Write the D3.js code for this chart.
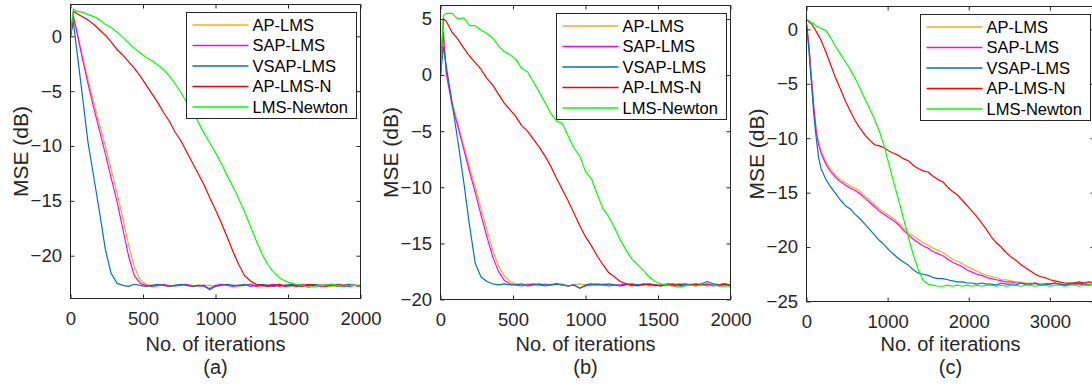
<!DOCTYPE html>
<html lang="en">
<head>
  <meta charset="utf-8">
  <title>MSE learning curves</title>
  <script src="https://d3js.org/d3.v7.min.js"></script>
  <style>
    body { margin: 0; background: #fff; }
    svg { display: block; font-family: "Liberation Sans", Arial, sans-serif; }
  </style>
</head>
<body>
<svg id="chart" width="1092" height="386"></svg>
<script>
  // legend order = plot order
  const seriesNames = ["AP-LMS", "SAP-LMS", "VSAP-LMS", "AP-LMS-N", "LMS-Newton"];
  const seriesColors = ["#EDB120", "#FF00FF", "#0072BD", "#FF0000", "#00FF00"];
  const captions = ["(a)", "(b)", "(c)"];

  // iteration grids
  const itersAB = [0, 20, 40, 80, 120, 160, 200, 240, 280, 320, 360, 400, 440, 480, 520, 560, 600, 640, 680, 720,
    760, 800, 840, 880, 920, 960, 1000, 1040, 1080, 1120, 1160, 1200, 1240, 1280, 1320, 1360, 1400, 1440, 1480, 1520,
    1560, 1600, 1640, 1680, 1720, 1760, 1800, 1840, 1880, 1920, 1960, 2000];
  const itersC = [0, 30, 60, 90, 120, 150, 180, 240, 300, 360, 420, 480, 540, 600, 660, 720, 780, 840, 900, 960,
    1020, 1080, 1140, 1200, 1260, 1320, 1380, 1440, 1500, 1560, 1620, 1680, 1740, 1800, 1860, 1920, 1980, 2040, 2100, 2160,
    2220, 2280, 2340, 2400, 2460, 2520, 2580, 2640, 2700, 2760, 2820, 2880, 2940, 3000, 3060, 3120, 3180, 3240, 3300, 3360,
    3420, 3480, 3540, 3600];

  // ticks
  const xTicksAB = [0, 500, 1000, 1500, 2000];
  const xTicksC = [0, 1000, 2000, 3000];
  const yTicksA = [-20, -15, -10, -5, 0];
  const yTicksB = [-20, -15, -10, -5, 0, 5];
  const yTicksC = [-25, -20, -15, -10, -5, 0];

  // panel (a), MSE in dB
  const apA = [0, 1.8, 0.7, -1.7, -3.9, -6.0, -8.0, -10.0, -12.1, -14.2, -16.5, -19.0, -21.0, -22.2, -22.6, -22.7,
    -22.8, -22.6, -22.7, -22.8, -22.7, -22.6, -22.7, -22.8, -22.7, -22.7, -22.8, -22.6, -22.7, -22.7, -22.8, -22.7,
    -22.6, -22.7, -22.8, -22.7, -22.6, -22.7, -22.7, -22.8, -22.7, -22.6, -22.8, -22.7, -22.7, -22.6, -22.8, -22.7,
    -22.7, -22.6, -22.7, -22.8];
  const sapA = [0, 1.8, 0.6, -1.9, -4.3, -6.5, -8.6, -10.7, -12.9, -15.0, -17.5, -20.0, -21.8, -22.5, -22.7,
    -22.8, -22.7, -22.6, -22.8, -22.7, -22.7, -22.6, -22.8, -22.7, -22.8, -23.0, -22.7, -22.6, -22.7, -22.8, -22.7,
    -22.7, -22.6, -22.8, -22.7, -22.7, -22.6, -22.8, -22.7, -22.7, -22.8, -22.6, -22.7, -22.7, -22.8, -22.7, -22.6,
    -22.7, -22.8, -22.7, -22.7, -22.8];
  const vsapA = [0, 1.3, -0.9, -5.2, -9.6, -12.8, -16.0, -19.4, -21.6, -22.5, -22.7,
    -22.8, -22.6, -22.7, -22.8, -22.7, -22.6, -22.7, -22.8, -22.7, -22.6, -22.7, -22.8, -22.7, -22.7, -23.1, -22.8,
    -22.7, -22.6, -22.7, -22.7, -22.6, -22.8, -22.7, -22.6, -22.7, -22.8, -22.7, -22.7, -22.6, -22.7, -22.8, -22.7,
    -22.6, -22.7, -22.7, -22.6, -22.8, -22.7, -22.6, -22.7, -22.8];
  const apnA = [0, 2.3, 2.1, 1.8, 1.5, 1.1, 0.6, 0.1, -0.5, -1.2, -1.7, -2.3, -2.9, -3.6, -4.4, -5.2, -6.0, -6.9,
    -7.7, -8.7, -9.5, -10.5, -11.5, -12.5, -13.5, -14.7, -15.8, -17.0, -18.3, -19.6, -20.8, -21.8, -22.3, -22.6, -22.7,
    -22.8, -22.7, -22.6, -22.8, -22.7, -22.7, -22.8, -22.6, -22.7, -22.7, -22.8, -22.7, -22.6, -22.7, -22.8, -22.7, -22.7];
  const newtonA = [0, 2.5, 2.3, 2.2, 2.0, 1.8, 1.5, 1.1, 0.8, 0.4, -0.1, -0.6, -1.1, -1.5, -1.9, -2.2, -2.6, -3.0,
    -3.6, -4.3, -5.1, -6.0, -6.8, -7.8, -8.8, -9.7, -10.6, -11.6, -12.7, -13.7, -14.8, -16.0, -17.3, -18.6, -19.8,
    -20.8, -21.5, -22.0, -22.3, -22.5, -22.6, -22.7, -22.9, -22.8, -22.7, -22.7, -22.6, -22.7, -22.8, -22.7, -22.7, -22.8];

  // panel (b)
  const apB = [0, 3.8, 0.3, -2.4, -4.3, -6.3, -8.2, -10.0, -11.9, -13.8, -15.6, -17.0, -17.9, -18.4, -18.6, -18.7,
    -18.6, -18.7, -18.8, -18.6, -18.7, -18.7, -18.6, -18.8, -18.7, -18.6, -18.7, -18.8, -18.7, -18.6, -18.7, -18.7,
    -18.8, -18.6, -18.7, -18.7, -18.6, -18.8, -18.7, -18.7, -18.6, -18.7, -18.8, -18.7, -18.6, -18.7, -18.7, -18.8,
    -18.6, -18.7, -18.7, -18.8];
  const sapB = [0, 3.8, 0.1, -2.7, -4.6, -6.6, -8.6, -10.5, -12.5, -14.4, -16.2, -17.5, -18.3, -18.6, -18.7,
    -18.8, -18.7, -18.6, -18.7, -18.8, -18.7, -18.6, -18.7, -18.8, -18.7, -19.0, -18.8, -18.7, -18.6, -18.7, -18.8,
    -18.7, -18.7, -18.6, -18.8, -18.7, -18.7, -18.6, -18.8, -18.7, -18.7, -18.8, -18.6, -18.7, -18.7, -18.8, -18.7,
    -18.6, -18.7, -18.8, -18.7, -18.7];
  const vsapB = [0, 2.5, 0.8, -2.5, -5.9, -9.5, -13.4, -16.8, -18.0, -18.4, -18.6, -18.7,
    -18.6, -18.7, -18.7, -18.6, -18.8, -18.7, -18.6, -18.7, -18.7, -18.6, -18.7, -18.8, -18.7, -19.0, -18.7, -18.6,
    -18.7, -18.7, -18.6, -18.7, -18.8, -18.7, -18.6, -18.7, -18.7, -18.6, -18.7, -18.8, -18.7, -18.6, -18.7, -18.6,
    -18.7, -18.7, -18.6, -18.4, -18.6, -18.7, -18.6, -18.7];
  const apnB = [0, 5.0, 4.8, 3.8, 3.2, 2.4, 1.7, 1.1, 0.5, -0.3, -0.9, -1.7, -2.5, -3.1, -3.7, -4.5, -5.0, -5.7,
    -6.4, -7.2, -8.1, -9.2, -10.2, -11.2, -12.3, -13.4, -14.4, -15.2, -16.1, -16.9, -17.6, -18.0, -18.4, -18.6, -18.7,
    -18.8, -18.6, -18.7, -18.7, -18.8, -18.6, -18.7, -18.7, -18.8, -18.7, -18.6, -18.7, -18.7, -18.8, -18.7, -18.6, -18.8];
  const newtonB = [0, 5.3, 5.5, 5.5, 5.0, 5.1, 4.4, 4.4, 4.0, 3.7, 3.3, 2.6, 2.1, 1.8, 1.4, 0.6, 0.3, -0.6, -1.5,
    -2.4, -3.4, -4.1, -4.3, -5.4, -6.5, -7.2, -8.6, -9.2, -10.6, -11.9, -12.6, -13.6, -14.7, -15.6, -16.4, -16.9,
    -17.4, -18.0, -18.4, -18.6, -18.7, -18.8, -18.9, -18.8, -18.7, -18.8, -18.7, -18.8, -18.7, -18.8, -18.8, -18.8];

  // panel (c)
  const apC = [0.5, -1.3, -4.2, -7.0, -9.2, -10.4, -11.2, -12.2, -12.9,
    -13.4, -13.8, -14.1, -14.4, -14.6, -14.9, -15.3, -15.7, -16.1, -16.5, -16.8, -17.1, -17.4, -17.8, -18.3, -18.7,
    -19.0, -19.3, -19.6, -19.8, -20.1, -20.3, -20.5, -20.8, -21.1, -21.3, -21.5, -21.8, -22.0, -22.2, -22.4, -22.6,
    -22.7, -22.8, -23.0, -23.0, -23.1, -23.2, -23.2, -23.3, -23.3, -23.4, -23.3, -23.4, -23.4, -23.3, -23.4, -23.4,
    -23.3, -23.4, -23.4, -23.3, -23.4, -23.4, -23.3];
  const sapC = [0.5, -1.5, -4.5, -7.2, -9.4, -10.6, -11.4, -12.4, -13.1,
    -13.6, -14.0, -14.3, -14.6, -14.8, -15.1, -15.5, -15.9, -16.3, -16.7, -17.0, -17.3, -17.6, -18.0, -18.5, -18.9,
    -19.3, -19.6, -19.9, -20.1, -20.4, -20.6, -20.8, -21.1, -21.4, -21.6, -21.8, -22.1, -22.3, -22.5, -22.6, -22.8,
    -22.9, -23.0, -23.1, -23.2, -23.2, -23.3, -23.3, -23.4, -23.4, -23.3, -23.5, -23.4, -23.4, -23.3, -23.4, -23.5,
    -23.4, -23.4, -23.3, -23.4, -23.5, -23.4, -23.4];
  const vsapC = [0.5, -2.0, -4.8, -7.8, -10.0, -11.8, -12.8, -13.8, -14.5,
    -15.1, -15.7, -16.2, -16.5, -17.0, -17.4, -17.9, -18.4, -18.9, -19.4, -19.8, -20.3, -20.7, -21.1, -21.4, -21.7,
    -22.1, -22.4, -22.5, -22.6, -22.8, -22.9, -22.9, -23.0, -23.1, -23.2, -23.2, -23.3, -23.3, -23.4, -23.3, -23.4,
    -23.4, -23.5, -23.3, -23.4, -23.4, -23.5, -23.3, -23.4, -23.4, -23.3, -23.5, -23.4, -23.4, -23.3, -23.4, -23.5,
    -23.4, -23.3, -23.4, -23.4, -23.5, -23.4, -23.3];
  const apnC = [0.9, 0.7, 0.5, 0.2, -0.2, -0.6, -1.0, -2.1, -3.3,
    -4.5, -5.5, -6.6, -7.5, -8.4, -9.1, -9.7, -10.2, -10.6, -10.7, -10.9, -11.2, -11.4, -11.6, -11.9, -12.1,
    -12.5, -12.8, -13.0, -13.1, -13.5, -13.8, -14.0, -14.5, -14.9, -15.2, -15.7, -16.2, -16.7, -17.2, -17.8, -18.4,
    -19.1, -19.6, -20.0, -20.5, -20.9, -21.2, -21.6, -21.9, -22.2, -22.5, -22.7, -22.8, -23.0, -23.1, -23.2, -23.3,
    -23.3, -23.3, -23.2, -23.3, -23.2, -23.3, -23.1];
  const newtonC = [0.9, 0.8, 0.6, 0.5, 0.3, 0.2, 0.1, -0.1, -0.8,
    -1.6, -2.3, -3.0, -3.7, -4.5, -5.4, -6.4, -7.3, -8.3, -9.4, -10.8, -12.5, -14.2, -15.8, -17.5, -19.2,
    -20.8, -22.1, -23.1, -23.4, -23.5, -23.6, -23.6, -23.5, -23.6, -23.5, -23.6, -23.5, -23.6, -23.5, -23.6, -23.5,
    -23.5, -23.6, -23.5, -23.6, -23.5, -23.5, -23.6, -23.5, -23.5, -23.6, -23.5, -23.5, -23.6, -23.5, -23.5, -23.6,
    -23.5, -23.5, -23.6, -23.5, -23.5, -23.4, -23.5];

  const panels = [
    { iters: itersAB, series: [apA, sapA, vsapA, apnA, newtonA], xDomain: [0, 2000], yDomain: [-23.9, 2.9],
      xTicks: xTicksAB, yTicks: yTicksA, left: 70.5, right: 360.5, top: 4.5, bottom: 298.5 },
    { iters: itersAB, series: [apB, sapB, vsapB, apnB, newtonB], xDomain: [0, 2000], yDomain: [-20, 6.2],
      xTicks: xTicksAB, yTicks: yTicksB, left: 440.5, right: 730.5, top: 5.5, bottom: 299.5 },
    { iters: itersC, series: [apC, sapC, vsapC, apnC, newtonC], xDomain: [0, 3550], yDomain: [-25, 2.1],
      xTicks: xTicksC, yTicks: yTicksC, left: 806.5, right: 1094.5, top: 6.5, bottom: 301.5 }
  ];

  const svg = d3.select("#chart");
  const ink = "#262626";

  panels.forEach((p, pi) => {
    const x = d3.scaleLinear().domain(p.xDomain).range([p.left, p.right]);
    const y = d3.scaleLinear().domain(p.yDomain).range([p.bottom, p.top]);
    const g = svg.append("g");

    g.append("clipPath").attr("id", "clip" + pi)
      .append("rect")
      .attr("x", p.left).attr("y", p.top)
      .attr("width", p.right - p.left).attr("height", p.bottom - p.top);

    // curves
    const line = d3.line().x((d, i) => x(p.iters[i])).y(d => y(d));
    const curves = g.append("g").attr("clip-path", `url(#clip${pi})`);
    p.series.forEach((vals, si) => {
      curves.append("path")
        .attr("d", line(vals.slice(0, p.iters.length)))
        .attr("fill", "none")
        .attr("stroke", seriesColors[si])
        .attr("stroke-width", 1.2)
        .attr("stroke-linejoin", "round");
    });

    // axes, ticks pointing inward on all four sides
    const styleAxis = sel => {
      sel.attr("color", ink).attr("font-size", 18.5).attr("font-family", "Liberation Sans, Arial, sans-serif");
      sel.select(".domain").remove();
      sel.selectAll("text").attr("fill", ink);
    };
    g.append("g").attr("transform", `translate(0,${p.bottom})`)
      .call(d3.axisBottom(x).tickValues(p.xTicks).tickSize(-4).tickPadding(13).tickFormat(d3.format("d")))
      .call(styleAxis);
    g.append("g").attr("transform", `translate(0,${p.top})`)
      .call(d3.axisTop(x).tickValues(p.xTicks).tickSize(-4).tickFormat(""))
      .call(styleAxis);
    g.append("g").attr("transform", `translate(${p.left},0)`)
      .call(d3.axisLeft(y).tickValues(p.yTicks).tickSize(-4).tickPadding(8.5).tickFormat(d3.format("d")))
      .call(styleAxis);
    g.append("g").attr("transform", `translate(${p.right},0)`)
      .call(d3.axisRight(y).tickValues(p.yTicks).tickSize(-4).tickFormat(""))
      .call(styleAxis);

    g.append("rect")
      .attr("x", p.left).attr("y", p.top)
      .attr("width", p.right - p.left).attr("height", p.bottom - p.top)
      .attr("fill", "none").attr("stroke", ink).attr("stroke-width", 1);

    // labels
    const cx = (p.left + p.right) / 2;
    g.append("text").attr("x", cx).attr("y", 351)
      .attr("text-anchor", "middle").attr("font-size", 20).attr("fill", ink)
      .text("No. of iterations");
    g.append("text").attr("x", cx).attr("y", 374)
      .attr("text-anchor", "middle").attr("font-size", 20).attr("fill", ink)
      .text(captions[pi]);
    g.append("text")
      .attr("transform", `translate(${p.left - 43},${(p.top + p.bottom) / 2}) rotate(-90)`)
      .attr("text-anchor", "middle").attr("font-size", 21).attr("fill", ink)
      .text("MSE (dB)");

    // legend, upper right
    const lw = 170, lh = 106;
    const lx = Math.round(p.right - 5 - lw) + 0.5, ly = Math.round(p.top + 7) + 0.5;
    const leg = g.append("g");
    leg.append("rect").attr("x", lx).attr("y", ly).attr("width", lw).attr("height", lh)
      .attr("fill", "#fff").attr("stroke", ink).attr("stroke-width", 1);
    seriesNames.forEach((name, si) => {
      const ry = ly + 12.5 + si * 20.5;
      leg.append("line").attr("x1", lx + 6).attr("x2", lx + 62).attr("y1", ry).attr("y2", ry)
        .attr("stroke", seriesColors[si]).attr("stroke-width", 1.6);
      leg.append("text").attr("x", lx + 66).attr("y", ry).attr("dy", "0.35em")
        .attr("font-size", 16.5).attr("fill", "#000").text(name);
    });
  });
</script>
</body>
</html>
